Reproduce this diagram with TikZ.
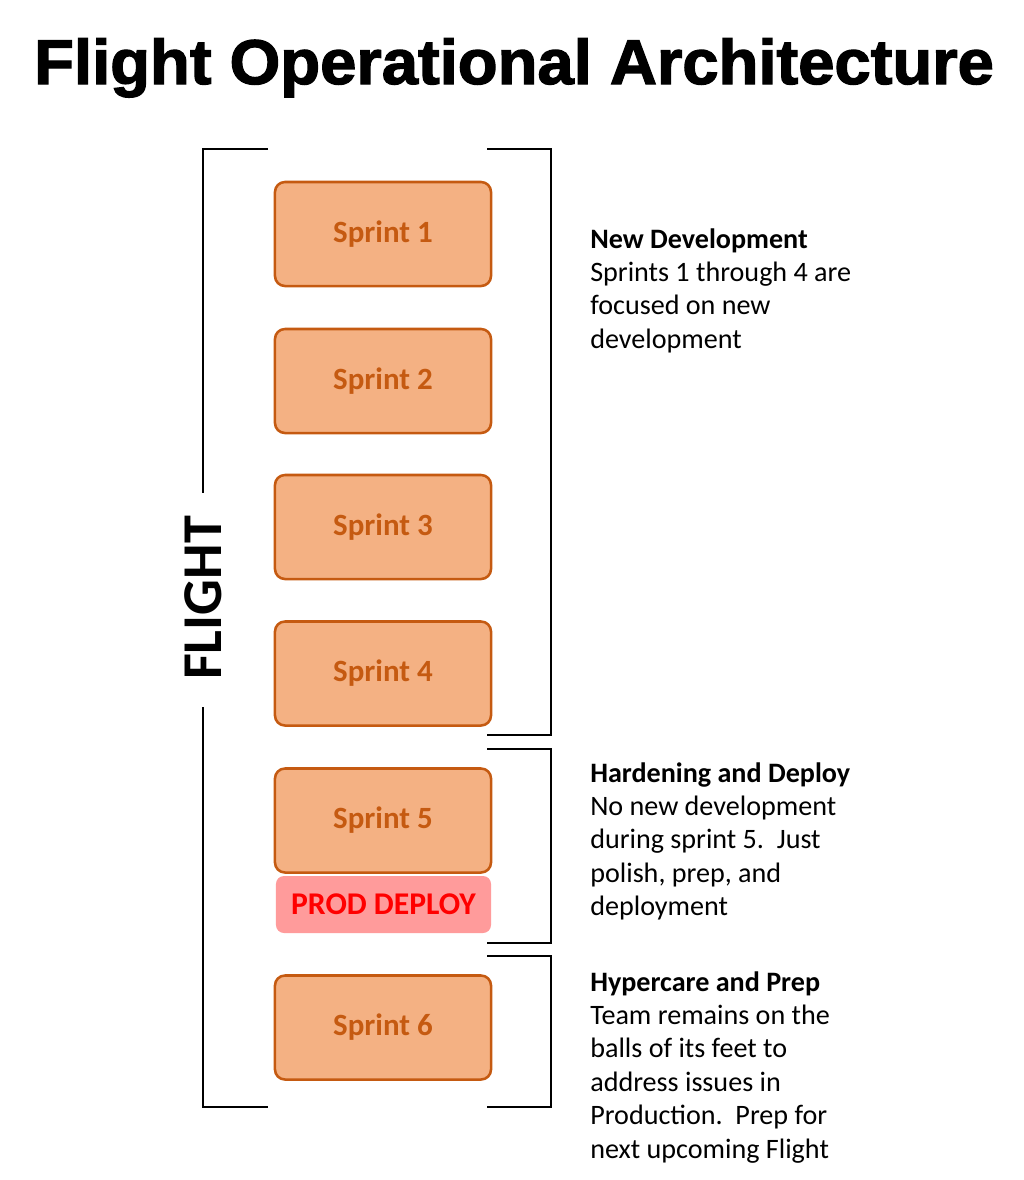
\documentclass[tikz,border=0pt]{standalone}
\usepackage{fontspec}
\setmainfont{Carlito}
\newfontface\titlefont[FakeBold=2]{Liberation Sans Bold}
\usetikzlibrary{%
  positioning,%
  shapes.misc%
}
\definecolor{sprintfill}{HTML}{F4B183}
\definecolor{sprintline}{HTML}{C55A11}
\definecolor{deployfill}{HTML}{FF9B9B}
\definecolor{deploytext}{HTML}{FF0000}
\tikzset{
  sprintbox/.style={draw=sprintline, fill=sprintfill, line width=1.8pt,
    rounded corners=0.25cm, minimum width=5.4cm, minimum height=2.6cm,
    text=sprintline, font=\fontsize{22}{26}\selectfont\bfseries},
  deploybox/.style={fill=deployfill, rounded corners=0.2cm,
    minimum width=5.375cm, minimum height=1.425cm,
    text=deploytext, font=\fontsize{22.5}{26}\selectfont\bfseries},
  bracket/.style={line width=1.4pt},
  note/.style={anchor=north west, inner sep=0pt, align=left,
    font=\fontsize{20}{23.8}\selectfont},
}
\begin{document}
\begin{tikzpicture}[
  x=0.025cm, y=-0.025cm,
]
\useasboundingbox (0,0) rectangle (1024,1180);

\node[anchor=base, xscale=1.03, font=\titlefont\fontsize{45}{50}\selectfont] (title) at (514,84) {Flight Operational Architecture};

% sprint boxes
\foreach \i/\y in {1/234,2/381,3/527,4/673.5,5/820.5,6/1027.5} {
  \node[sprintbox] (s\i) at (383,\y) {Sprint \i};
}
\node[deploybox] (deploy) at (383.5,904.5) {PROD DEPLOY};

% flight bracket
\draw[bracket] (268,149) -- (203,149) -- (203,493);
\draw[bracket] (203,707) -- (203,1107) -- (268,1107);
\node[rotate=90, font=\bfseries\fontsize{40}{44}\selectfont] (flight) at (203,598) {FLIGHT};

% phase brackets
\draw[bracket] (487,149) -- (551,149) -- (551,735) -- (487,735);
\draw[bracket] (487,749) -- (551,749) -- (551,943) -- (487,943);
\draw[bracket] (487,956) -- (551,956) -- (551,1107) -- (487,1107);

\node[note] (newdev) at (590,228) {\textbf{New Development}\\Sprints 1 through 4 are\\focused on new\\development};
\node[note] (harden) at (590,762) {\textbf{Hardening and Deploy}\\No new development\\during sprint 5.\ \ Just\\polish, prep, and\\deployment};
\node[note] (hyper) at (590,971) {\textbf{Hypercare and Prep}\\Team remains on the\\balls of its feet to\\address issues in\\Production.\ \ Prep for\\next upcoming Flight};

\end{tikzpicture}
\end{document}
